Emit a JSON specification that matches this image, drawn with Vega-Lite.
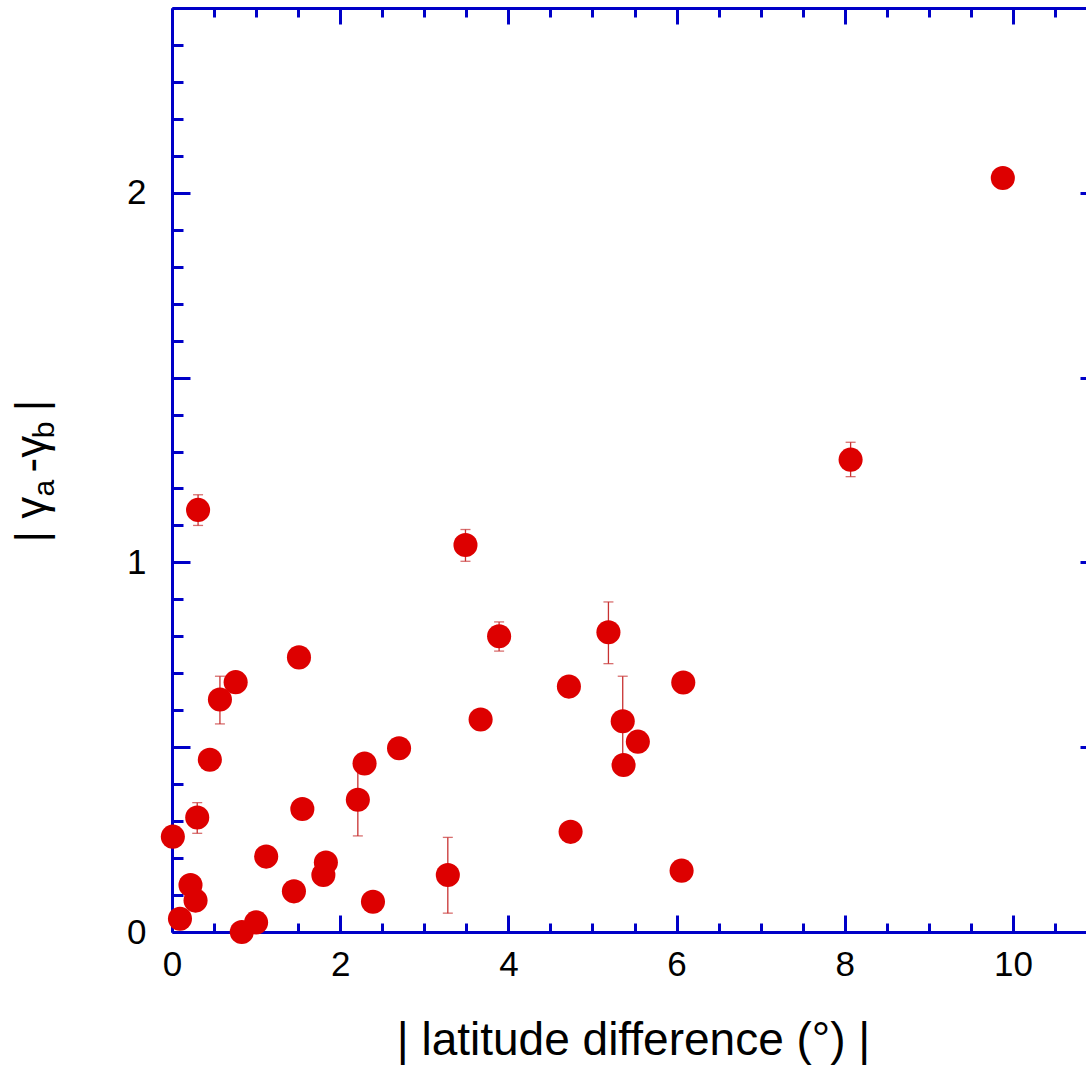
{
  "$schema": "https://vega.github.io/schema/vega-lite/v6.json",
  "width": 914,
  "height": 924,
  "autosize": {"type": "none"},
  "padding": {"left": 172, "top": 8, "right": 0, "bottom": 134},
  "background": "white",
  "config": {
    "view": {"stroke": null},
    "font": "Liberation Sans",
    "axis": {
      "domainColor": "#0000c8",
      "domainWidth": 3,
      "tickColor": "#0000c8",
      "tickWidth": 3,
      "grid": false,
      "labelFont": "Liberation Sans",
      "labelFontSize": 35,
      "labelColor": "#000000",
      "titleFont": "Liberation Sans",
      "titleFontWeight": "normal",
      "titleColor": "#000000"
    }
  },
  "datasets": {
    "pts": [
      {"dx": 0.01, "dg": 0.258},
      {"dx": 0.095, "dg": 0.036},
      {"dx": 0.22, "dg": 0.127},
      {"dx": 0.28, "dg": 0.085},
      {"dx": 0.30, "dg": 0.310, "lo": 0.267, "hi": 0.350},
      {"dx": 0.31, "dg": 1.142, "lo": 1.100, "hi": 1.183},
      {"dx": 0.45, "dg": 0.466},
      {"dx": 0.57, "dg": 0.629, "lo": 0.563, "hi": 0.692},
      {"dx": 0.757, "dg": 0.676},
      {"dx": 0.83, "dg": 0.0},
      {"dx": 1.0, "dg": 0.026},
      {"dx": 1.12, "dg": 0.204},
      {"dx": 1.45, "dg": 0.110},
      {"dx": 1.51, "dg": 0.743},
      {"dx": 1.55, "dg": 0.333},
      {"dx": 1.80, "dg": 0.154},
      {"dx": 1.83, "dg": 0.188},
      {"dx": 2.21, "dg": 0.358, "lo": 0.260, "hi": 0.456},
      {"dx": 2.29, "dg": 0.456},
      {"dx": 2.39, "dg": 0.082},
      {"dx": 2.70, "dg": 0.497},
      {"dx": 3.28, "dg": 0.154, "lo": 0.051, "hi": 0.256},
      {"dx": 3.49, "dg": 1.047, "lo": 1.003, "hi": 1.089},
      {"dx": 3.67, "dg": 0.575},
      {"dx": 3.89, "dg": 0.800, "lo": 0.760, "hi": 0.839},
      {"dx": 4.72, "dg": 0.664},
      {"dx": 4.74, "dg": 0.271},
      {"dx": 5.19, "dg": 0.811, "lo": 0.726, "hi": 0.893},
      {"dx": 5.36, "dg": 0.570, "lo": 0.450, "hi": 0.692},
      {"dx": 5.37, "dg": 0.452},
      {"dx": 5.54, "dg": 0.515},
      {"dx": 6.06, "dg": 0.166},
      {"dx": 6.08, "dg": 0.675},
      {"dx": 8.07, "dg": 1.278, "lo": 1.232, "hi": 1.325},
      {"dx": 9.88, "dg": 2.040}
    ]
  },
  "data": {"name": "pts"},
  "layer": [
    {
      "transform": [{"filter": "isValid(datum.lo)"}],
      "mark": {"type": "rule", "color": "#c83232", "strokeWidth": 1.3},
      "encoding": {
        "x": {
          "field": "dx", "type": "quantitative",
          "scale": {"domain": [0, 11], "range": [0, 925], "nice": false, "zero": false},
          "axis": {"orient": "top", "offset": -924, "values": [0, 2, 4, 6, 8, 10], "tickSize": 17, "labels": false, "domain": true, "title": null}
        },
        "y": {
          "field": "lo", "type": "quantitative",
          "scale": {"domain": [0, 2.5], "nice": false},
          "axis": {"orient": "right", "offset": -914, "values": [0, 0.5, 1, 1.5, 2, 2.5], "tickSize": 18, "labels": false, "domain": true, "title": null}
        },
        "y2": {"field": "hi"}
      }
    },
    {
      "transform": [{"filter": "isValid(datum.hi)"}],
      "mark": {"type": "tick", "orient": "horizontal", "size": 10, "thickness": 1.3, "color": "#c83232"},
      "encoding": {
        "x": {
          "field": "dx", "type": "quantitative",
          "scale": {"domain": [0, 11], "range": [0, 925], "nice": false, "zero": false},
          "axis": {"orient": "top", "offset": -924, "values": [0.5, 1, 1.5, 2.5, 3, 3.5, 4.5, 5, 5.5, 6.5, 7, 7.5, 8.5, 9, 9.5, 10.5], "tickSize": 9, "labels": false, "domain": false, "title": null}
        },
        "y": {
          "field": "hi", "type": "quantitative",
          "scale": {"domain": [0, 2.5], "nice": false},
          "axis": {"orient": "right", "offset": -914, "values": [0.1, 0.2, 0.3, 0.4, 0.6, 0.7, 0.8, 0.9, 1.1, 1.2, 1.3, 1.4, 1.6, 1.7, 1.8, 1.9, 2.1, 2.2, 2.3, 2.4], "tickSize": 11, "labels": false, "domain": false, "title": null}
        }
      }
    },
    {
      "transform": [{"filter": "isValid(datum.lo)"}],
      "mark": {"type": "tick", "orient": "horizontal", "size": 10, "thickness": 1.3, "color": "#c83232"},
      "encoding": {
        "x": {
          "field": "dx", "type": "quantitative",
          "scale": {"domain": [0, 11], "range": [0, 925], "nice": false, "zero": false},
          "axis": {"orient": "bottom", "offset": -924, "values": [0, 2, 4, 6, 8, 10], "tickSize": 16, "labels": false, "domain": true, "title": null}
        },
        "y": {
          "field": "lo", "type": "quantitative",
          "scale": {"domain": [0, 2.5], "nice": false},
          "axis": {"orient": "left", "offset": -925, "values": [0.5, 1, 1.5, 2], "tickSize": 17, "labels": false, "domain": true, "title": null}
        }
      }
    },
    {
      "mark": {"type": "circle", "size": 10, "opacity": 0},
      "encoding": {
        "x": {
          "field": "dx", "type": "quantitative",
          "scale": {"domain": [0, 11], "range": [0, 925], "nice": false, "zero": false},
          "axis": {"orient": "bottom", "offset": -924, "values": [0.5, 1, 1.5, 2.5, 3, 3.5, 4.5, 5, 5.5, 6.5, 7, 7.5, 8.5, 9, 9.5, 10.5], "tickSize": 9, "labels": false, "domain": false, "title": null}
        },
        "y": {
          "field": "dg", "type": "quantitative",
          "scale": {"domain": [0, 2.5], "nice": false},
          "axis": {"orient": "left", "ticks": false, "tickSize": 0, "labels": false, "domain": false,
            "title": "a\u00a0\u00a0\u00a0\u00a0\u00a0b", "titleFontSize": 30, "titleAngle": 270, "titleX": -119, "titleY": 488, "titleAlign": "left", "titleBaseline": "alphabetic"}
        }
      }
    },
    {
      "mark": {"type": "circle", "size": 580, "color": "#dd0000", "opacity": 1},
      "encoding": {
        "x": {
          "field": "dx", "type": "quantitative",
          "scale": {"domain": [0, 11], "range": [0, 925], "nice": false, "zero": false},
          "axis": {"orient": "bottom", "values": [0, 2, 4, 6, 8, 10], "ticks": false, "tickSize": 0, "domain": false, "labelPadding": 15, "labelFlush": false, "labelOverlap": false,
            "title": "| latitude difference (°) |", "titleFontSize": 46, "titleX": 461, "titleY": 122, "titleAlign": "center", "titleBaseline": "alphabetic", "titleAngle": 0}
        },
        "y": {
          "field": "dg", "type": "quantitative",
          "scale": {"domain": [0, 2.5], "nice": false},
          "axis": {"orient": "left", "values": [0, 1, 2], "format": ".0f", "ticks": false, "tickSize": 0, "domain": false, "labelPadding": 26, "labelFlush": false, "labelOverlap": false,
            "title": "|\u00a0γ\u00a0\u00a0-γ\u00a0\u00a0|", "titleFontSize": 44, "titleAngle": 270, "titleX": -127, "titleY": 534, "titleAlign": "left", "titleBaseline": "alphabetic"}
        }
      }
    }
  ],
  "resolve": {"axis": {"x": "independent", "y": "independent"}}
}
